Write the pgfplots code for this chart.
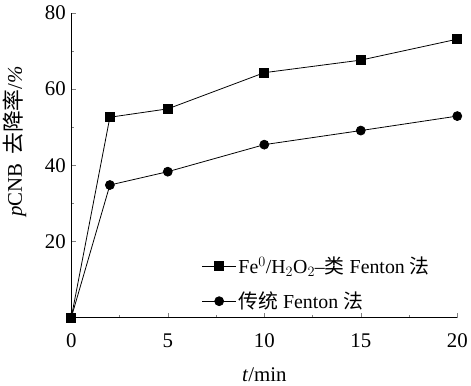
\documentclass[border=0pt]{standalone}
\usepackage{fontspec}
\setmainfont{Liberation Serif}
\newfontfamily\cjk{Noto Sans CJK SC}
\usepackage{pgfplots}
\pgfplotsset{compat=1.18}
\begin{document}
\begin{tikzpicture}
\begin{axis}[
  scale only axis,
  width=389pt, height=307pt,
  xmin=0, xmax=20, ymin=0, ymax=80,
  axis x line*=bottom, axis y line*=left,
  xtick={0,5,10,15,20},
  ytick={20,40,60,80},
  minor x tick num=1, minor y tick num=1,
  major tick length=5pt, minor tick length=3pt,
  tick align=inside,
  /pgf/number format/assume math mode=true,
  tick label style={font=\fontsize{21}{24}\selectfont},
  xticklabel style={yshift=-13pt},
  yticklabel style={xshift=-2pt},
  xlabel={\textit{t}/min},
  ylabel={\textit{p}CNB\, {\cjk\fontsize{22}{24}\selectfont 去降率}/\textit{\%}},
  label style={font=\fontsize{21}{24}\selectfont},
  xlabel style={yshift=-13pt},
  ylabel style={yshift=12pt, xshift=24pt},
  legend style={draw=none, fill=none, at={(0.33,0.01)}, anchor=south west,
    font=\fontsize{20}{24}\selectfont, row sep=13pt, legend cell align=left},
  legend image code/.code={\draw[mark repeat=2,mark phase=2,#1] plot coordinates {(0cm,0cm) (0.6cm,0cm) (1.2cm,0cm)};},
]
\addplot[black, line width=0.8pt, mark=square*, mark size=4.5pt, mark options={fill=black}] coordinates {
 (0,0) (2,52.6) (5,54.8) (10,64.3) (15,67.6) (20,73.1)
};
\addlegendentry{Fe$^0$/H$_2$O$_2$–{\cjk 类} Fenton {\cjk 法}}
\addplot[black, line width=0.8pt, mark=*, mark size=4.5pt, mark options={fill=black}] coordinates {
 (0,0) (2,34.8) (5,38.3) (10,45.4) (15,49.1) (20,52.9)
};
\addlegendentry{{\cjk 传统} Fenton {\cjk 法}}
\end{axis}
\path (current axis.south west) ++(-71pt,-63pt);
\path (current axis.north east) ++(11pt,13pt);
\end{tikzpicture}
\end{document}
